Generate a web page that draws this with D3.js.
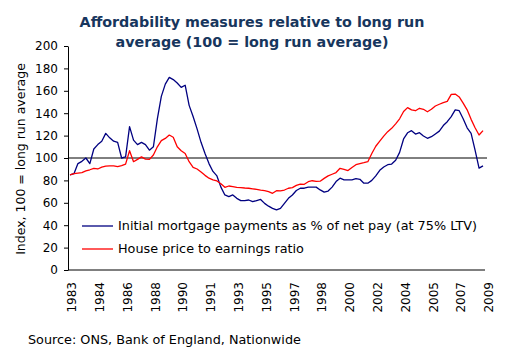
<!DOCTYPE html>
<html>
<head>
<meta charset="utf-8">
<script src="https://cdn.jsdelivr.net/npm/d3@7"></script>
<style>
  body { margin: 0; background: #fff; }
  svg { display: block; font-family: "DejaVu Sans", Verdana, sans-serif; }
</style>
</head>
<body>
<div id="chart"></div>
<script>
// quarterly series, 1983 Q1 .. 2009 Q1
const startYear = 1983;

const mortgagePayments = [
    85, 86, 95, 97, 100, 95, 108, 112, 115, 122,
    118, 115, 114, 100, 101, 128, 116, 112, 114, 112,
    107, 110, 135, 155, 166, 172, 170, 167, 163, 165,
    147, 137, 126, 114, 104, 95, 88, 84, 74, 67,
    65.5, 67, 64, 62, 62, 62.5, 61, 62, 63, 59.5,
    57, 55, 53.6, 55, 59.5, 64, 67, 71, 73, 73,
    74, 74, 74, 71.5, 69.5, 70.5, 74, 79, 82, 80.5,
    80.5, 80.5, 81.5, 81, 77.5, 77.5, 80, 84, 89, 92,
    94, 94.6, 98, 105, 117, 122.5, 124.4, 121.4, 122.6, 119.6,
    117.6, 119, 121.5, 124, 129, 132.4, 137, 142.9, 142.2, 135,
    127, 122, 107, 91, 93
];

const priceToEarnings = [
    85, 86, 86.5, 87, 88.5, 89.5, 90.8, 90.2, 91.8, 92.8,
    93, 93, 92.3, 93.2, 94.5, 106.5, 96.7, 98.8, 101, 99,
    98.8, 102.7, 110, 115.5, 117.5, 120.5, 118.5, 110, 106.5, 104,
    96.7, 91.7, 90.2, 87.5, 84.5, 82, 80.5, 79.5, 77, 73.8,
    75, 74.4, 73.8, 73.5, 73.2, 73, 72.5, 72, 71.3, 70.8,
    70, 68.5, 70.8, 70.6, 71.4, 73, 73.6, 75.5, 76.7, 76.5,
    78.8, 79.7, 79.2, 79.3, 81.8, 84, 85.5, 87, 90.8, 89.9,
    88.8, 91.5, 94, 95, 95.8, 96.7, 104, 110.5, 115, 119.5,
    123.5, 126.5, 130.5, 135, 141.5, 145, 143, 142.2, 144.4, 143.5,
    141.3, 143.5, 146.4, 148, 149.5, 150.5, 156.8, 157.1, 154.5, 149,
    143, 134.5, 127, 120.5, 124.4
];

const seriesNames = [
    'Initial mortgage payments as % of net pay (at 75% LTV)',
    'House price to earnings ratio'
];
const seriesColors = ['#000080', '#ff0000'];

const yTicks = [0, 20, 40, 60, 80, 100, 120, 140, 160, 180, 200];
const labelEvery = 7;   // quarters between x labels
const nSlots = 105;     // category slots on the axis

let width = 517,
    height = 351,
    margin = {left: 68, top: 46, right: 32, bottom: 81},
    plotWidth = width - margin.left - margin.right,
    plotHeight = height - margin.top - margin.bottom;

let svg = d3.select('#chart').append('svg')
    .attr('width', width)
    .attr('height', height);

svg.append('text')
    .attr('x', 252)
    .attr('y', 27)
    .attr('text-anchor', 'middle')
    .attr('font-size', '14.3px')
    .attr('font-weight', 'bold')
    .attr('fill', '#17365d')
    .selectAll('tspan')
    .data(['Affordability measures relative to long run', 'average (100 = long run average)'])
    .join('tspan')
    .attr('x', 252)
    .attr('dy', (d, i) => i === 0 ? 0 : 20)
    .text(d => d);

let g = svg.append('g')
    .attr('transform', `translate(${margin.left}, ${margin.top})`);

let xScale = d3.scaleLinear()
    .domain([0, nSlots])
    .range([0, plotWidth]);

let yScale = d3.scaleLinear()
    .domain([0, 200])
    .range([plotHeight, 0]);

// y axis
let yAxis = g.append('g')
    .call(d3.axisLeft(yScale).tickValues(yTicks).tickSize(4).tickPadding(6).tickSizeOuter(0));
yAxis.select('.domain').attr('stroke', '#000');
yAxis.selectAll('text')
    .attr('font-size', '12px')
    .attr('font-family', '"DejaVu Sans", Verdana, sans-serif')
    .attr('fill', '#000');

// x axis, labels only
let xAxis = g.append('g')
    .attr('transform', `translate(0, ${plotHeight})`);
xAxis.append('line')
    .attr('x1', 0).attr('x2', plotWidth)
    .attr('stroke', '#000');

let labelIdx = d3.range(0, nSlots + 1, labelEvery);
xAxis.selectAll('text')
    .data(labelIdx)
    .join('text')
    .attr('transform', d => `translate(${xScale(d) + 4}, 12) rotate(-90)`)
    .attr('text-anchor', 'end')
    .attr('dy', '0.35em')
    .attr('font-size', '12px')
    .text(d => startYear + Math.floor(d / 4));

// reference line at 100
g.append('line')
    .attr('x1', 0).attr('x2', plotWidth + 2)
    .attr('y1', yScale(100)).attr('y2', yScale(100))
    .attr('stroke', '#000')
    .attr('stroke-width', 1);

let line = d3.line()
    .x((d, i) => xScale(i + 0.5))
    .y(d => yScale(d));

[mortgagePayments, priceToEarnings].forEach((s, k) => {
    g.append('path')
        .datum(s)
        .attr('fill', 'none')
        .attr('stroke', seriesColors[k])
        .attr('stroke-width', 1.3)
        .attr('stroke-linejoin', 'round')
        .attr('d', line);
});

// legend
let legend = svg.append('g')
    .attr('transform', 'translate(82, 226)');
let item = legend.selectAll('g')
    .data(seriesNames)
    .join('g')
    .attr('transform', (d, i) => `translate(0, ${i * 23})`);
item.append('line')
    .attr('x1', 0).attr('x2', 31)
    .attr('stroke', (d, i) => seriesColors[i])
    .attr('stroke-width', 1.3);
item.append('text')
    .attr('x', 36)
    .attr('dy', '0.35em')
    .attr('font-size', '12.8px')
    .text(d => d);

// axis title
svg.append('text')
    .attr('transform', 'translate(21, 159) rotate(-90)')
    .attr('text-anchor', 'middle')
    .attr('dy', '0.35em')
    .attr('font-size', '12.5px')
    .text('Index, 100 = long run average');

svg.append('text')
    .attr('x', 28)
    .attr('y', 344)
    .attr('font-size', '12.8px')
    .text('Source: ONS, Bank of England, Nationwide');
</script>
</body>
</html>
